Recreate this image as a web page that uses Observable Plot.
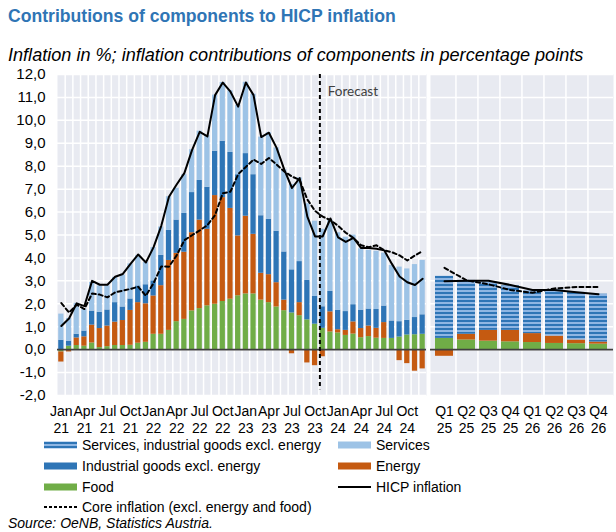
<!DOCTYPE html>
<html>
<head>
<meta charset="utf-8">
<script src="https://cdn.jsdelivr.net/npm/d3@7"></script>
<script src="https://cdn.jsdelivr.net/npm/@observablehq/plot@0.6"></script>
<style>
  body { margin: 0; background: #fff; font-family: "Liberation Sans", Arial, sans-serif; }
  #page { position: relative; width: 616px; height: 532px; overflow: hidden; background: #fff; }
  #title { position: absolute; left: 8px; top: 8px; font-size: 17.6px; line-height: 1; font-weight: bold; color: #2f75b5; white-space: nowrap; }
  #subtitle { position: absolute; left: 8px; top: 46px; font-size: 18.1px; line-height: 1; font-style: italic; color: #000; white-space: nowrap; }
  #charts { position: absolute; left: 0; top: 62px; display: flex; }
  #charts svg { display: block; }
  .lg { position: absolute; font-size: 14px; line-height: 1; color: #000; white-space: nowrap; }
  .sw { position: absolute; }
  #source { position: absolute; left: 8px; top: 516px; font-size: 14px; line-height: 1; font-style: italic; color: #000; white-space: nowrap; }
</style>
</head>
<body>
<svg width="0" height="0" style="position:absolute">
  <defs>
    <pattern id="stripes" patternUnits="userSpaceOnUse" width="8" height="4">
      <rect width="8" height="4" fill="#8fb6e3"></rect>
      <rect y="2" width="8" height="2" fill="#2e75b6"></rect>
    </pattern>
  </defs>
</svg>
<div id="page">
  <div id="title">Contributions of components to HICP inflation</div>
  <div id="subtitle">Inflation in %; inflation contributions of components in percentage points</div>
  <div id="charts"></div>
  <div id="legend"></div>
  <div id="source">Source: OeNB, Statistics Austria.</div>
</div>
<script>
// ---------- categories ----------
const monthNames = ["Jan","Feb","Mar","Apr","May","Jun","Jul","Aug","Sep","Oct","Nov","Dec"];
const years = ["21","22","23","24"];
const months = years.flatMap(y => monthNames.map(m => `${m} ${y}`));
const tickMonthNames = ["Jan","Apr","Jul","Oct"];
const quarters = ["Q1 25","Q2 25","Q3 25","Q4 25","Q1 26","Q2 26","Q3 26","Q4 26"];

// ---------- monthly contributions (pp) ----------
const food = [
  -0.10, 0.15, 0.18, 0.15, 0.29, 0.09, 0.13, 0.18, 0.18, 0.19, 0.28, 0.32,
   0.67, 0.67, 0.84, 1.22, 1.32, 1.69, 1.79, 1.91, 1.98, 2.10, 2.20, 2.35,
   2.43, 2.43, 2.16, 2.05, 1.86, 1.70, 1.60, 1.48, 1.30, 1.11, 0.93, 0.77,
   0.73, 0.62, 0.68, 0.52, 0.57, 0.50, 0.49, 0.49, 0.55, 0.64, 0.65, 0.67];
const energy = [
  -0.44, -0.10, 0.33, 0.41, 0.78, 0.83, 0.90, 1.02, 1.09, 1.52, 1.77, 1.68,
   1.67, 2.12, 3.05, 2.98, 2.93, 3.41, 3.86, 3.34, 4.74, 4.53, 3.96, 2.61,
   3.39, 2.60, 1.17, 1.22, 1.06, 0.46, -0.18, 0.57, -0.58, -0.70, -0.31, 0.88,
   0.14, 0.22, 0.53, 0.40, 0.46, 0.43, 0.69, 0.00, -0.48, -0.61, -0.94, -0.84];
const industrial = [
   0.41, 0.22, 0.16, 0.25, 0.61, 0.71, 0.70, 0.85, 0.59, 0.50, 0.73, 0.83,
   0.66, 1.32, 1.31, 1.45, 1.69, 1.75, 1.73, 1.83, 1.93, 2.46, 2.44, 2.67,
   2.73, 2.60, 2.51, 2.41, 2.24, 2.10, 1.88, 1.79, 1.72, 1.21, 0.94, 0.89,
   0.85, 0.82, 0.75, 0.80, 0.74, 0.82, 0.72, 0.76, 0.67, 0.64, 0.75, 0.85];
const services = [
   1.14, 0.99, 1.35, 0.95, 1.25, 1.15, 1.05, 1.10, 1.39, 1.53, 1.32, 0.97,
   1.45, 1.24, 1.47, 1.39, 1.69, 1.87, 2.15, 2.26, 2.45, 2.56, 2.69, 3.03,
   3.11, 3.51, 3.43, 3.78, 3.64, 3.59, 3.72, 3.65, 3.34, 3.28, 3.38, 3.11,
   3.38, 3.24, 3.04, 2.68, 2.56, 2.54, 2.31, 2.42, 2.38, 2.24, 2.31, 2.37];
const hicp = [
   1.03, 1.36, 2.02, 1.90, 3.00, 2.83, 2.83, 3.18, 3.30, 3.74, 4.15, 3.80,
   4.47, 5.40, 6.67, 7.20, 7.70, 8.70, 9.50, 9.30, 11.10, 11.65, 11.25, 10.60,
  11.65, 11.10, 9.27, 9.46, 8.80, 7.85, 7.05, 7.48, 5.80, 4.94, 4.94, 5.72,
   4.90, 4.70, 4.87, 4.43, 4.43, 4.40, 4.33, 3.74, 3.19, 2.94, 2.82, 3.09];
const core = [
   2.03, 1.62, 1.96, 1.77, 2.45, 2.40, 2.28, 2.50, 2.57, 2.65, 2.74, 2.35,
   2.90, 3.63, 3.62, 4.11, 4.77, 4.99, 5.20, 5.43, 5.87, 6.82, 6.89, 7.65,
   7.97, 8.29, 8.10, 8.36, 8.07, 7.77, 7.55, 7.40, 6.55, 6.05, 5.80, 5.65,
   5.40, 5.10, 4.87, 4.55, 4.47, 4.55, 4.33, 4.25, 4.11, 3.89, 4.11, 4.30];

// ---------- quarterly forecast (pp) ----------
const qFood    = [0.49, 0.42, 0.37, 0.34, 0.31, 0.27, 0.26, 0.24];
const qEnergy  = [-0.29, 0.25, 0.47, 0.50, 0.39, 0.32, 0.16, 0.09];
const qServInd = [2.71, 2.35, 2.10, 1.94, 1.87, 2.01, 2.08, 2.09];
const qHicp    = [2.98, 3.00, 3.00, 2.82, 2.60, 2.60, 2.50, 2.42];
const qCore    = [3.57, 3.02, 2.85, 2.60, 2.48, 2.67, 2.73, 2.73];

// ---------- series names / styling ----------
const comps = ["Food", "Energy", "Industrial goods excl. energy", "Services"];
const compColors = ["#70ad47", "#c55a11", "#2e75b6", "#9dc3e6"];
const qComps = ["Food", "Energy", "Services, industrial goods excl. energy"];
const qColors = ["#70ad47", "#c55a11", "url(#stripes)"];
const yTicks = d3.range(-2, 13);
const bg = "#e8eaf1";
const fmtY = d => d.toFixed(1).replace(".", ",");

// ---------- tables ----------
const monthly = months.flatMap((m, i) => [
  {month: m, comp: comps[0], value: food[i]},
  {month: m, comp: comps[1], value: energy[i]},
  {month: m, comp: comps[2], value: industrial[i]},
  {month: m, comp: comps[3], value: services[i]}
]);
const monthlyLines = months.map((m, i) => ({month: m, hicp: hicp[i], core: core[i]}));
const quarterly = quarters.flatMap((q, i) => [
  {q, comp: qComps[0], value: qFood[i]},
  {q, comp: qComps[1], value: qEnergy[i]},
  {q, comp: qComps[2], value: qServInd[i]}
]);
const quarterlyLines = quarters.map((q, i) => ({q, hicp: qHicp[i], core: qCore[i]}));

// ---------- layout ----------
const H = 376, MT = 12, MB = H - MT - 321;
const LW = 428, LML = 57, LMR = 2;
const RW = 188, RML = 2, RMR = 3;
const lStep = (LW - LML - LMR) / months.length;
const rStep = (RW - RML - RMR) / quarters.length;
const baseStyle = {fontFamily: "'Liberation Sans', Arial, sans-serif", fontSize: "14px", color: "#000", background: "transparent", overflow: "visible"};

const left = Plot.plot({
  width: LW, height: H, marginLeft: LML, marginRight: LMR, marginTop: MT, marginBottom: MB,
  style: baseStyle,
  x: {type: "band", domain: months, paddingInner: 0.32, paddingOuter: 0.16, label: null},
  y: {domain: [-2, 12], label: null},
  color: {domain: comps, range: compColors},
  marks: [
    Plot.frame({fill: bg, stroke: "none"}),
    Plot.gridY(yTicks, {stroke: "#fff", strokeOpacity: 1, strokeWidth: 1.5}),
    Plot.ruleX(months.slice(0, -1), {stroke: "#fff", strokeOpacity: 1, strokeWidth: 1.5, dx: lStep / 2}),
    Plot.barY(monthly, {x: "month", y: "value", fill: "comp", order: comps}),
    Plot.ruleY([0], {stroke: "#404040", strokeWidth: 1.8}),
    Plot.ruleX(["Oct 23"], {y1: 12, y2: -1.75, stroke: "#000", strokeWidth: 2, strokeDasharray: "4,3", dx: lStep / 2 + 1}),
    Plot.text(["Forecast"], {x: () => "Nov 23", y: () => 11.25, text: d => d, textAnchor: "start", dx: 5,
      fontFamily: "Lato, 'Open Sans', sans-serif", fontSize: 13.5, fill: "#404040"}),
    Plot.line(monthlyLines, {x: "month", y: "core", stroke: "#000", strokeWidth: 2, strokeDasharray: "4,3"}),
    Plot.line(monthlyLines, {x: "month", y: "hicp", stroke: "#000", strokeWidth: 2}),
    Plot.axisY(yTicks, {tickSize: 0, tickPadding: 12, tickFormat: fmtY, fontSize: 15, label: null}),
    Plot.axisX(months.filter(m => tickMonthNames.includes(m.slice(0, 3))), {
      tickSize: 0, tickPadding: 8, tickFormat: d => d.replace(" ", "\n"), lineHeight: 1.25, fontSize: 14, label: null})
  ]
});

const right = Plot.plot({
  width: RW, height: H, marginLeft: RML, marginRight: RMR, marginTop: MT, marginBottom: MB,
  style: baseStyle,
  x: {type: "band", domain: quarters, paddingInner: 0.17, paddingOuter: 0.085, label: null},
  y: {domain: [-2, 12], label: null, axis: null},
  color: {domain: qComps, range: qColors},
  marks: [
    Plot.frame({fill: bg, stroke: "none"}),
    Plot.gridY(yTicks, {stroke: "#fff", strokeOpacity: 1, strokeWidth: 1.5}),
    Plot.ruleX(quarters.slice(0, -1), {stroke: "#fff", strokeOpacity: 1, strokeWidth: 1.5, dx: rStep / 2}),
    Plot.barY(quarterly, {x: "q", y: "value", fill: "comp", order: qComps}),
    Plot.ruleY([0], {stroke: "#404040", strokeWidth: 1.8}),
    Plot.line(quarterlyLines, {x: "q", y: "core", stroke: "#000", strokeWidth: 2, strokeDasharray: "4,3"}),
    Plot.line(quarterlyLines, {x: "q", y: "hicp", stroke: "#000", strokeWidth: 2}),
    Plot.axisX(quarters, {tickSize: 0, tickPadding: 8, tickFormat: d => d.replace(" ", "\n"), lineHeight: 1.25, fontSize: 14, label: null})
  ]
});

document.getElementById("charts").append(left, right);

// ---------- legend ----------
const legendItems = [
  {label: "Services, industrial goods excl. energy", kind: "bar", fill: "url(#stripes)", col: 0, row: 0},
  {label: "Services", kind: "bar", fill: compColors[3], col: 1, row: 0},
  {label: "Industrial goods excl. energy", kind: "bar", fill: compColors[2], col: 0, row: 1},
  {label: "Energy", kind: "bar", fill: compColors[1], col: 1, row: 1},
  {label: "Food", kind: "bar", fill: compColors[0], col: 0, row: 2},
  {label: "HICP inflation", kind: "line", dash: null, col: 1, row: 2},
  {label: "Core inflation (excl. energy and food)", kind: "line", dash: "3,2", col: 0, row: 3}
];
const legend = document.getElementById("legend");
const colX = [44, 338], rowY = [445, 466, 487, 507];
for (const it of legendItems) {
  const x = colX[it.col], y = rowY[it.row];
  const ns = "http://www.w3.org/2000/svg";
  const s = document.createElementNS(ns, "svg");
  s.setAttribute("class", "sw");
  s.setAttribute("width", 34); s.setAttribute("height", 10);
  s.style.left = x + "px"; s.style.top = (y - 5) + "px";
  if (it.kind === "bar") {
    const r = document.createElementNS(ns, "rect");
    r.setAttribute("x", 0); r.setAttribute("y", 1.5); r.setAttribute("width", 33); r.setAttribute("height", 7);
    r.setAttribute("fill", it.fill);
    s.append(r);
  } else {
    const l = document.createElementNS(ns, "line");
    l.setAttribute("x1", 0); l.setAttribute("x2", 33); l.setAttribute("y1", 5); l.setAttribute("y2", 5);
    l.setAttribute("stroke", "#000"); l.setAttribute("stroke-width", 2);
    if (it.dash) l.setAttribute("stroke-dasharray", it.dash);
    s.append(l);
  }
  legend.append(s);
  const t = document.createElement("div");
  t.className = "lg";
  t.textContent = it.label;
  t.style.left = (x + 38) + "px";
  t.style.top = (y - 7) + "px";
  legend.append(t);
}
</script>
</body>
</html>
